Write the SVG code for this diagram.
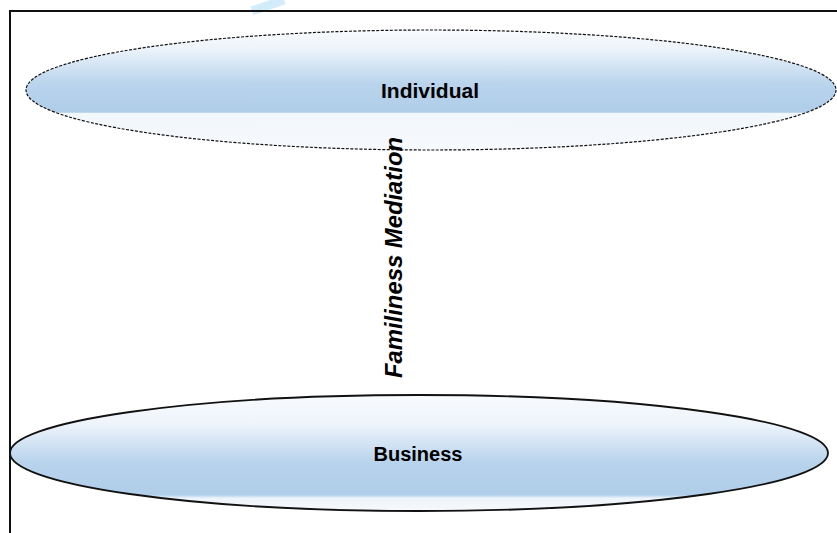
<svg xmlns="http://www.w3.org/2000/svg" width="837" height="533" viewBox="0 0 837 533">
  <defs>
    <linearGradient id="gTop" x1="0" y1="0" x2="0" y2="1">
      <stop offset="0" stop-color="#f8fbfe"/>
      <stop offset="0.15" stop-color="#eef4fb"/>
      <stop offset="0.45" stop-color="#b9d4ec"/>
      <stop offset="0.685" stop-color="#b0cde9"/>
      <stop offset="0.695" stop-color="#f2f7fc"/>
      <stop offset="1" stop-color="#f6f9fd"/>
    </linearGradient>
    <linearGradient id="gBot" x1="0" y1="0" x2="0" y2="1">
      <stop offset="0" stop-color="#f8fbfe"/>
      <stop offset="0.25" stop-color="#eef4fb"/>
      <stop offset="0.58" stop-color="#b8d3ec"/>
      <stop offset="0.86" stop-color="#b0cde9"/>
      <stop offset="0.89" stop-color="#eef4fb"/>
      <stop offset="1" stop-color="#f6f9fd"/>
    </linearGradient>
    <style>
      .lbl { font-family: "Liberation Sans", Arial, sans-serif; font-weight: bold; fill: #000; }
      .frame { fill: none; stroke: #111; stroke-width: 2; }
    </style>
  </defs>
  <rect width="837" height="533" fill="#ffffff"/>
  <path d="M284,0 L252,11" stroke="#d2ecfb" stroke-width="9" fill="none"/>
  <path class="frame" d="M10,533 L10,11 L837,11"/>
  <g id="individual">
    <ellipse cx="431" cy="90" rx="405" ry="60" fill="url(#gTop)" stroke="#111" stroke-width="1.2" stroke-dasharray="3,1.5"/>
    <text class="lbl" x="430" y="98" font-size="21" text-anchor="middle">Individual</text>
  </g>
  <g id="business">
    <ellipse cx="419" cy="453" rx="409" ry="58" fill="url(#gBot)" stroke="#111" stroke-width="1.8"/>
    <text class="lbl" x="418" y="461" font-size="20" text-anchor="middle">Business</text>
  </g>
  <g id="connectors">
    <text class="lbl" font-size="23" font-style="italic" text-anchor="middle" textLength="241" lengthAdjust="spacingAndGlyphs" transform="translate(402,257.5) rotate(-90)">Familiness Mediation</text>
  </g>
</svg>
